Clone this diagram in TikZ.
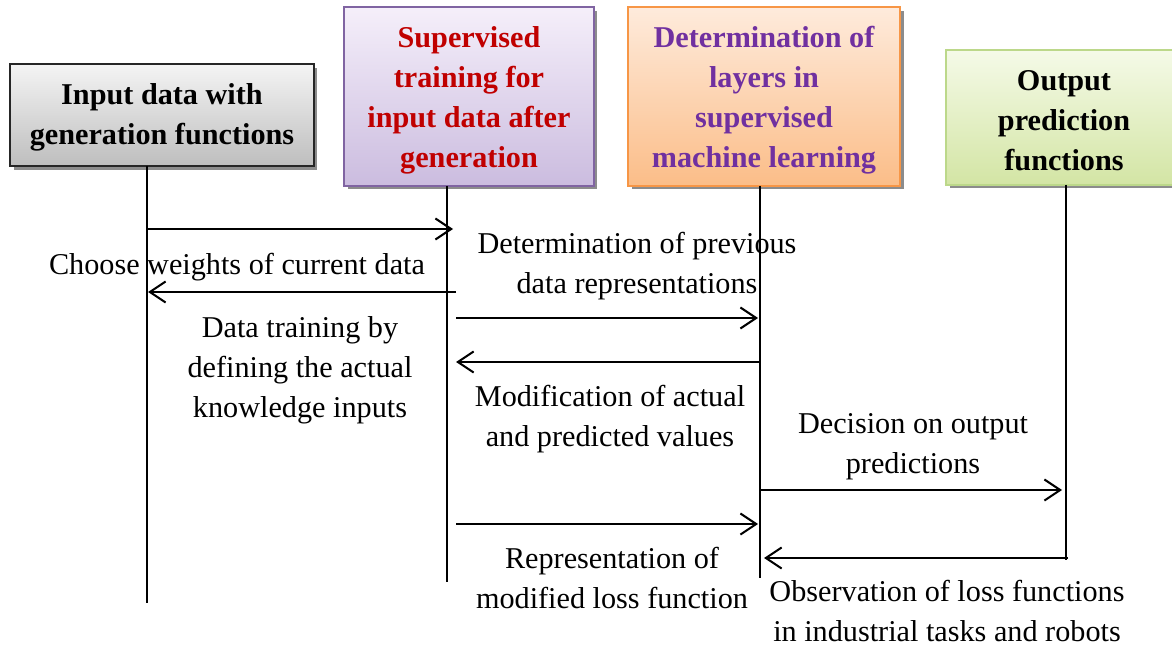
\documentclass[tikz,border=0pt]{standalone}
\usepackage{fontspec}
\setmainfont{Liberation Serif}
\usetikzlibrary{arrows.meta,shadows}
\definecolor{grayT}{HTML}{F4F4F4}
\definecolor{grayB}{HTML}{BEBEBE}
\definecolor{purT}{HTML}{F5EFFA}
\definecolor{purB}{HTML}{CBBCDF}
\definecolor{purD}{HTML}{8064A2}
\definecolor{orT}{HTML}{FEEBDC}
\definecolor{orB}{HTML}{FBBD88}
\definecolor{orD}{HTML}{F79646}
\definecolor{grT}{HTML}{F5FAE8}
\definecolor{grB}{HTML}{D3E5A4}
\definecolor{grD}{HTML}{BCD88A}
\definecolor{redtxt}{HTML}{C00000}
\definecolor{purtxt}{HTML}{7030A0}
\newcommand{\headtext}[2]{\raisebox{#1}[\height][\depth]{\begin{tabular}{@{}c@{}}#2\end{tabular}}}
\tikzset{
  head/.style={draw, line width=1pt, align=center, inner sep=0pt,
    font=\bfseries\fontsize{17.2}{22.7}\selectfont,
    drop shadow={shadow xshift=2pt, shadow yshift=-2pt, fill=black!45, opacity=1}},
  life/.style={line width=1.15pt},
  msg/.style={line width=1.15pt, -{Straight Barb[length=9pt,width=12pt,line width=1.15pt]}},
  lbl/.style={align=center, inner sep=0pt, font=\fontsize{17.2}{22.7}\selectfont}
}
\begin{document}
\begin{tikzpicture}[x=0.02cm,y=-0.02cm]
\useasboundingbox (0,0) rectangle (1172,648);
% header boxes
\node[head, top color=grayT, bottom color=grayB, draw=black!85,
  minimum width=6.08cm, minimum height=2.04cm] (b1) at (162,115)
  {\headtext{-0.7pt}{Input data with\\generation functions}};
\node[head, top color=purT, bottom color=purB, draw=purD, text=redtxt,
  minimum width=5.0cm, minimum height=3.58cm] (b2) at (469,96.5)
  {\headtext{-1.7pt}{Supervised\\training for\\input data after\\generation}};
\node[head, top color=orT, bottom color=orB, draw=orD, text=purtxt,
  minimum width=5.44cm, minimum height=3.58cm] (b3) at (764,96.5)
  {\headtext{-1.7pt}{Determination of\\layers in\\supervised\\machine learning}};
\node[head, top color=grT, bottom color=grB, draw=grD,
  minimum width=4.72cm, minimum height=2.7cm] (b4) at (1064,117.5)
  {\headtext{-2.85pt}{Output\\prediction\\functions}};
% lifelines
\coordinate (l1a) at (147,166); \coordinate (l1b) at (147,603);
\coordinate (l2a) at (447,186); \coordinate (l2b) at (447,582);
\coordinate (l3a) at (760,186); \coordinate (l3b) at (760,578);
\coordinate (l4a) at (1066,185); \coordinate (l4b) at (1066,560);
\draw[life] (l1a) -- (l1b);
\draw[life] (l2a) -- (l2b);
\draw[life] (l3a) -- (l3b);
\draw[life] (l4a) -- (l4b);
% messages
\coordinate (m1s) at (147,229); \coordinate (m1e) at (453,229);
\coordinate (m2s) at (456,292); \coordinate (m2e) at (148,292);
\coordinate (m3s) at (456,318); \coordinate (m3e) at (758,318);
\coordinate (m4s) at (760,362); \coordinate (m4e) at (456,362);
\coordinate (m5s) at (760,490); \coordinate (m5e) at (1062,490);
\coordinate (m6s) at (456,524); \coordinate (m6e) at (758,524);
\coordinate (m7s) at (1068,558); \coordinate (m7e) at (764,558);
\draw[msg] (m1s) -- (m1e);
\draw[msg] (m2s) -- (m2e);
\draw[msg] (m3s) -- (m3e);
\draw[msg] (m4s) -- (m4e);
\draw[msg] (m5s) -- (m5e);
\draw[msg] (m6s) -- (m6e);
\draw[msg] (m7s) -- (m7e);
% labels
\node[lbl] (t1) at (637,266) {Determination of previous\\data representations};
\node[lbl] (t2) at (237,267) {Choose weights of current data};
\node[lbl] (t3) at (300,370) {Data training by\\defining the actual\\knowledge inputs};
\node[lbl] (t4) at (610,419) {Modification of actual\\and predicted values};
\node[lbl] (t5) at (913,447) {Decision on output\\predictions};
\node[lbl] (t6) at (612,578) {Representation of\\modified loss function};
\node[lbl] (t7) at (947,611) {Observation of loss functions\\in industrial tasks and robots};
\end{tikzpicture}
\end{document}
